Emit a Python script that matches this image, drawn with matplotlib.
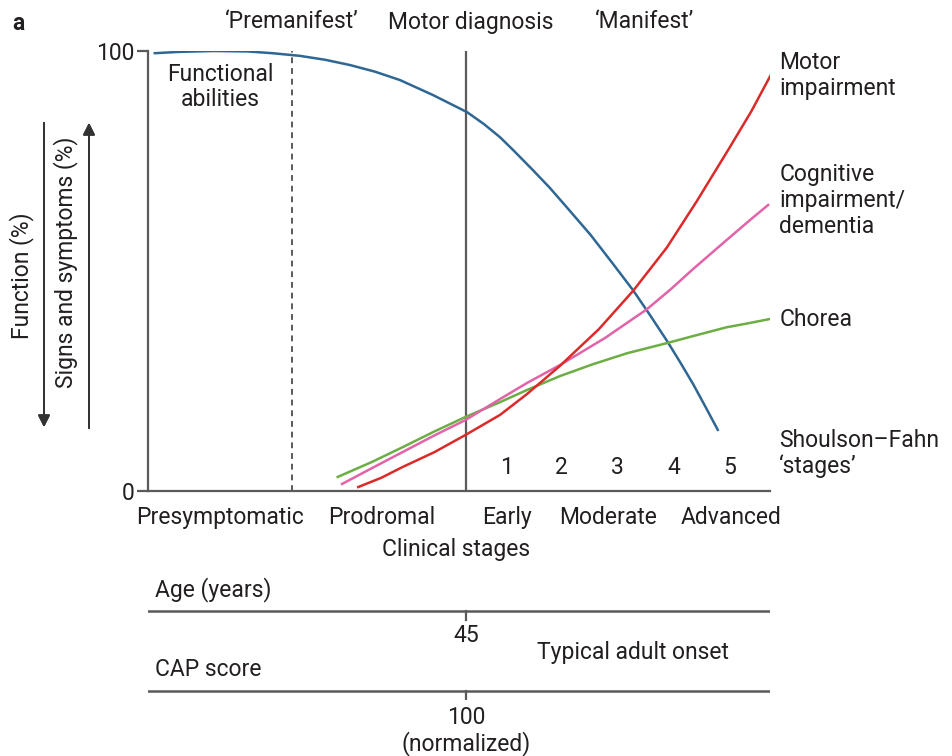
import numpy as np
import matplotlib.pyplot as plt

plt.rcParams['font.family'] = ['Roboto', 'DejaVu Sans']

# curve data (x: disease course 0-100, y: percent)
func_x = [1.1, 5, 10.5, 16, 20, 24.4, 28.5, 32.5, 36.5, 40.5, 45.8, 51.3, 54, 56.6, 58.7, 61.9, 64.6,
          67.5, 71.1, 74.5, 78.0, 80.7, 83.4, 85.5, 87.6, 89.6, 91.6]
func_y = [99.5, 99.8, 100, 99.9, 99.5, 98.9, 98.0, 96.8, 95.3, 93.4, 90.0, 86.1, 83.4, 80.4, 77.5, 72.9, 68.9,
          64.2, 58.3, 52.1, 45.6, 40.0, 34.2, 29.4, 24.4, 19.2, 13.9]

motor_x = [33.8, 37.5, 41, 46, 51, 56.6, 60.9, 66.2, 72.5, 78, 83.4, 88.2, 93.4, 97, 100.3]
motor_y = [0.9, 3.0, 5.5, 8.8, 12.7, 17.3, 22.0, 28.4, 36.8, 45.5, 55.3, 65.8, 77.8, 86.3, 95]

cog_x = [31.2, 36, 41, 46, 51, 56.6, 61, 66.2, 73.5, 80.2, 84, 87.6, 92.5, 96.8, 99.7]
cog_y = [1.6, 5.2, 8.9, 12.6, 16.1, 20.9, 24.6, 28.6, 34.8, 41.3, 45.8, 50.4, 56.4, 61.6, 65]

chorea_x = [30.5, 36, 41, 46, 51, 56.6, 61, 66.2, 71.5, 77, 83.4, 87.6, 93, 96.8, 100]
chorea_y = [3.2, 6.6, 10.0, 13.5, 16.8, 20.2, 23.0, 26.1, 28.8, 31.3, 33.6, 35.2, 37.2, 38.2, 39.1]

stage_labels = ['Presymptomatic', 'Prodromal', 'Early', 'Moderate', 'Advanced']
stage_pos = [11.6, 37.5, 57.7, 74.0, 93.7]
sf_labels = ['1', '2', '3', '4', '5']
sf_pos = [57.6, 66.4, 75.4, 84.6, 93.6]
premanifest_x = 23.2
diagnosis_x = 51.1

W, H = 952, 756
fig = plt.figure(figsize=(W / 100, H / 100), dpi=100)

def fx(x):
    return x / W

def fy(y):
    return 1 - y / H

txt = '#231f20'
gray = '#5a5a5a'
fs = 16.5

ax = fig.add_axes([fx(148), fy(491), (770 - 148) / W, (491 - 51) / H])
ax.set_xlim(0, 100)
ax.set_ylim(0, 100)
for s in ['top', 'right']:
    ax.spines[s].set_visible(False)
ax.spines['left'].set_color(gray)
ax.spines['bottom'].set_color(gray)
ax.spines['left'].set_linewidth(1.6)
ax.spines['bottom'].set_linewidth(1.6)
ax.set_xticks([])
ax.set_yticks([0, 100])
ax.set_yticklabels(['0', '100'], fontsize=fs, color=txt)
ax.tick_params(axis='y', length=8, width=1.6, color=gray, pad=2)

ax.axvline(premanifest_x, color=gray, lw=1.4, ls=(0, (3, 2.5)))
ax.axvline(diagnosis_x, color=gray, lw=1.6)

ax.plot(func_x, func_y, color='#2f6794', lw=1.8)
ax.plot(chorea_x, chorea_y, color='#6cae45', lw=1.8)
ax.plot(cog_x, cog_y, color='#e263a8', lw=1.8)
ax.plot(motor_x, motor_y, color='#dc2a2a', lw=1.8)

ax.text(11.6, 91.8, 'Functional\nabilities', ha='center', va='center', fontsize=fs, color=txt, linespacing=1.15)
for p, l in zip(sf_pos, sf_labels):
    ax.text(p, 5.3, l, ha='center', va='center', fontsize=fs, color=txt)
for p, l in zip(stage_pos, stage_labels):
    ax.text(p, -6, l, ha='center', va='center', fontsize=fs, color=txt, clip_on=False)
ax.text(49.5, -13.2, 'Clinical stages', ha='center', va='center', fontsize=fs, color=txt, clip_on=False)

# right side labels
ax.text(101.5, 94.5, 'Motor\nimpairment', ha='left', va='center', fontsize=fs, color=txt, linespacing=1.15, clip_on=False)
ax.text(101.5, 66, 'Cognitive\nimpairment/\ndementia', ha='left', va='center', fontsize=fs, color=txt, linespacing=1.15, clip_on=False)
ax.text(101.5, 39, 'Chorea', ha='left', va='center', fontsize=fs, color=txt, clip_on=False)
ax.text(101.5, 8.5, 'Shoulson\u2013Fahn\n\u2018stages\u2019', ha='left', va='center', fontsize=fs, color=txt, linespacing=1.15, clip_on=False)

# top labels
fig.text(fx(12), fy(23), 'a', fontsize=fs, fontweight='bold', color=txt, va='center')
fig.text(fx(292), fy(22), '\u2018Premanifest\u2019', fontsize=fs, color=txt, ha='center', va='center')
fig.text(fx(471), fy(22), 'Motor diagnosis', fontsize=fs, color=txt, ha='center', va='center')
fig.text(fx(645), fy(22), '\u2018Manifest\u2019', fontsize=fs, color=txt, ha='center', va='center')

# left axis arrows
fig.add_artist(plt.annotate('', xy=(fx(44), fy(430)), xytext=(fx(44), fy(120)), xycoords='figure fraction',
                            arrowprops=dict(arrowstyle='-|>', color='#333333', lw=1.3, mutation_scale=18)))
fig.add_artist(plt.annotate('', xy=(fx(89), fy(120)), xytext=(fx(89), fy(431)), xycoords='figure fraction',
                            arrowprops=dict(arrowstyle='-|>', color='#333333', lw=1.3, mutation_scale=18)))
fig.text(fx(22), fy(276), 'Function (%)', rotation=90, fontsize=fs, color=txt, ha='center', va='center')
fig.text(fx(66), fy(262), 'Signs and symptoms (%)', rotation=90, fontsize=fs, color=txt, ha='center', va='center')

# lower scales
ax2 = fig.add_axes([fx(148), fy(700), (770 - 148) / W, (700 - 600) / H])
ax2.set_xlim(0, 100)
ax2.set_ylim(700, 600)
ax2.axis('off')
ax2.axhline(611, color=gray, lw=1.8)
ax2.axhline(691, color=gray, lw=1.8)
ax2.plot([diagnosis_x, diagnosis_x], [611, 620], color=gray, lw=1.6)
ax2.plot([diagnosis_x, diagnosis_x], [691, 700], color=gray, lw=1.6)
fig.text(fx(155), fy(590), 'Age (years)', fontsize=fs, color=txt, ha='left', va='center')
fig.text(fx(466), fy(636), '45', fontsize=fs, color=txt, ha='center', va='center')
fig.text(fx(633), fy(653), 'Typical adult onset', fontsize=fs, color=txt, ha='center', va='center')
fig.text(fx(155), fy(670), 'CAP score', fontsize=fs, color=txt, ha='left', va='center')
fig.text(fx(466), fy(717), '100', fontsize=fs, color=txt, ha='center', va='center')
fig.text(fx(466), fy(744), '(normalized)', fontsize=fs, color=txt, ha='center', va='center')

fig.savefig('out.png', dpi=100)
